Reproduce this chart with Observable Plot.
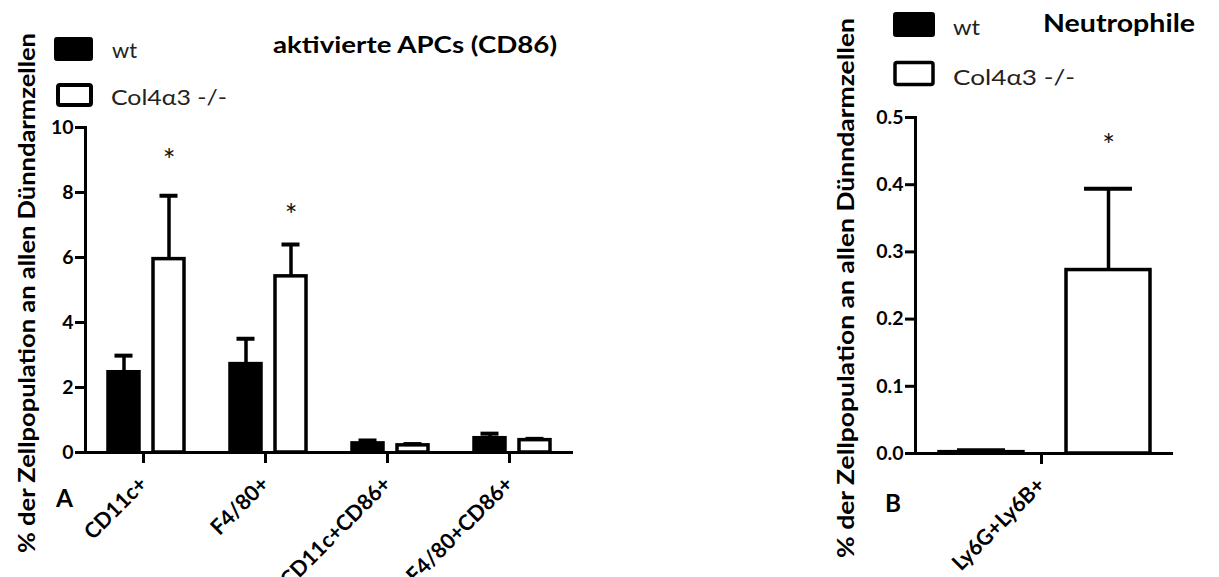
<!DOCTYPE html>
<html>
<head>
<meta charset="utf-8">
<script src="https://cdn.jsdelivr.net/npm/d3@7"></script>
<script src="https://cdn.jsdelivr.net/npm/@observablehq/plot@0.6"></script>
<style>
  html, body { margin: 0; padding: 0; background: #fff; overflow: hidden; }
  #wrap { position: relative; width: 1219px; height: 577px; font-family: Lato, "Open Sans", sans-serif; }
  #wrap > div.panel { position: absolute; top: 0; }
  #overlay { position: absolute; left: 0; top: 0; pointer-events: none; }
  svg { overflow: visible; }
</style>
</head>
<body>
<div id="wrap">
  <div class="panel" id="pA" style="left:0px"></div>
  <div class="panel" id="pB" style="left:800px"></div>
</div>
<script>
// ---------- Data (panel A: aktivierte APCs) ----------
const categoriesA = ["CD11c+", "F4/80+", "CD11c+CD86+", "F4/80+CD86+"];
const wtMeanA  = [2.47, 2.72, 0.28, 0.44];
const wtUpperA = [2.98, 3.50, 0.37, 0.58];   // mean + SEM
const koMeanA  = [5.95, 5.42, 0.22, 0.38];
const koUpperA = [7.90, 6.40, 0.26, 0.42];   // mean + SEM
const koSigA   = [9.2, 7.5, null, null];     // asterisk positions
const ticksA   = [0, 2, 4, 6, 8, 10];

// ---------- Data (panel B: Neutrophile) ----------
const categoriesB = ["Ly6G+Ly6B+"];
const wtMeanB  = [0.002];
const wtUpperB = [0.005];
const koMeanB  = [0.273];
const koUpperB = [0.394];
const koSigB   = [0.469];
const ticksB   = [0, 0.1, 0.2, 0.3, 0.4, 0.5];

const groups = ["wt", "Col4α3 -/-"];
const groupColors = ["black", "white"];

function rowsOf(cats, wm, wu, km, ku, ks) {
  return cats.flatMap((c, i) => [
    {cat: c, group: groups[0], mean: wm[i], upper: wu[i], sig: null},
    {cat: c, group: groups[1], mean: km[i], upper: ku[i], sig: ks[i]}
  ]);
}

function panel(cfg) {
  const rows = rowsOf(cfg.cats, cfg.wm, cfg.wu, cfg.km, cfg.ku, cfg.ks);
  return Plot.plot({
    width: cfg.width, height: 577,
    marginLeft: cfg.ml, marginRight: cfg.mr, marginTop: cfg.mt, marginBottom: cfg.mb,
    style: {fontFamily: "Lato, 'Open Sans', sans-serif", background: "transparent", color: "black"},
    fx: {domain: cfg.cats, padding: 0, label: null},
    x: {domain: groups, paddingInner: cfg.pi, paddingOuter: cfg.po, axis: null},
    y: {domain: cfg.yDomain, label: null},
    color: {domain: groups, range: groupColors},
    marks: [
      Plot.barY(rows, {fx: "cat", x: "group", y: "mean", fill: "group", stroke: "black", strokeWidth: 3.5}),
      Plot.ruleX(rows, {fx: "cat", x: "group", y1: "mean", y2: "upper", stroke: "black", strokeWidth: 3.5}),
      Plot.tickY(rows, {fx: "cat", x: "group", y: "upper", stroke: "black", strokeWidth: 4, insetLeft: cfg.capInset, insetRight: cfg.capInset}),
      Plot.text(rows.filter(d => d.sig != null), {fx: "cat", x: "group", y: "sig", text: () => "*", fontSize: 30, lineAnchor: "middle", dy: 8, fill: "#111"}),
      Plot.ruleY([0], {stroke: "black", strokeWidth: 3}),
      Plot.frame({anchor: "left", facetAnchor: "left", stroke: "black", strokeWidth: 3}),
      Plot.axisY(cfg.yTicks, {tickSize: 10, tickPadding: 2, strokeWidth: 3, fontSize: 19.5, fontWeight: "bold", tickFormat: cfg.tickFormat, label: null}),
      Plot.axisFx({anchor: "bottom", tickSize: 11, tickPadding: 17, dx: -3, strokeWidth: 3, tickRotate: -45, fontSize: 21.5, fontWeight: "bold", label: null})
    ]
  });
}

document.getElementById("pA").appendChild(panel({
  cats: categoriesA, wm: wtMeanA, wu: wtUpperA, km: koMeanA, ku: koUpperA, ks: koSigA,
  width: 620, ml: 84, mr: 46, mt: 127, mb: 125,
  pi: 0.308, po: 0.5, capInset: 6.5,
  yDomain: [0, 10], yTicks: ticksA, tickFormat: d => String(d)
}));

document.getElementById("pB").appendChild(panel({
  cats: categoriesB, wm: wtMeanB, wu: wtUpperB, km: koMeanB, ku: koUpperB, ks: koSigB,
  width: 419, ml: 115, mr: 46, mt: 117, mb: 124,
  pi: 0.341, po: 0.186, capInset: 18,
  yDomain: [0, 0.5], yTicks: ticksB, tickFormat: d3.format(".1f")
}));

// ---------- Titles, legends, panel letters, y labels ----------
const NS = "http://www.w3.org/2000/svg";
const ov = document.createElementNS(NS, "svg");
ov.setAttribute("id", "overlay");
ov.setAttribute("width", 1219);
ov.setAttribute("height", 577);
document.getElementById("wrap").appendChild(ov);

function txt(s, x, y, opts = {}) {
  const t = document.createElementNS(NS, "text");
  t.textContent = s;
  t.setAttribute("x", x);
  t.setAttribute("y", y);
  t.setAttribute("font-family", "Lato, 'Open Sans', sans-serif");
  t.setAttribute("font-size", opts.size || 20);
  t.setAttribute("font-weight", opts.weight || "normal");
  t.setAttribute("fill", opts.fill || "black");
  if (opts.anchor) t.setAttribute("text-anchor", opts.anchor);
  if (opts.transform) t.setAttribute("transform", opts.transform);
  if (opts.dy) t.setAttribute("dy", opts.dy);
  if (opts.len) { t.setAttribute("textLength", opts.len); t.setAttribute("lengthAdjust", "spacingAndGlyphs"); }
  ov.appendChild(t);
  return t;
}
function swatch(x, y, w, h, fill, sw) {
  const r = document.createElementNS(NS, "rect");
  r.setAttribute("x", x); r.setAttribute("y", y);
  r.setAttribute("width", w); r.setAttribute("height", h);
  r.setAttribute("rx", 2);
  r.setAttribute("fill", fill);
  r.setAttribute("stroke", "black");
  r.setAttribute("stroke-width", sw);
  ov.appendChild(r);
}

const yLabel = "% der Zellpopulation an allen Dünndarmzellen";

// Panel A
swatch(54.5, 37.5, 38, 23, groupColors[0], 1);
swatch(58, 85, 33, 20, groupColors[1], 4);
txt(groups[0], 112, 58, {size: 21, fill: "#222", len: 25});
txt(groups[1], 111, 105, {size: 21, fill: "#222", len: 116});
txt("aktivierte APCs (CD86)", 273, 53, {size: 23, weight: "bold", len: 284});
txt("A", 56, 507, {size: 24, weight: "bold", len: 17});
txt(yLabel, 0, 0, {size: 22, weight: "bold", anchor: "middle", dy: "0.35em", len: 520, transform: "translate(27,293) rotate(-90)"});

// Panel B
swatch(893.5, 12.5, 41, 24, groupColors[0], 1);
swatch(895, 62.5, 38, 22, groupColors[1], 3.5);
txt(groups[0], 953, 35, {size: 22, fill: "#222", len: 27});
txt(groups[1], 953, 85, {size: 22, fill: "#222", len: 122});
txt("Neutrophile", 1043, 32, {size: 24, weight: "bold", len: 152});
txt("B", 885, 512, {size: 24, weight: "bold", len: 16});
txt(yLabel, 0, 0, {size: 22, weight: "bold", anchor: "middle", dy: "0.35em", len: 540, transform: "translate(846,288) rotate(-90)"});
</script>
</body>
</html>
